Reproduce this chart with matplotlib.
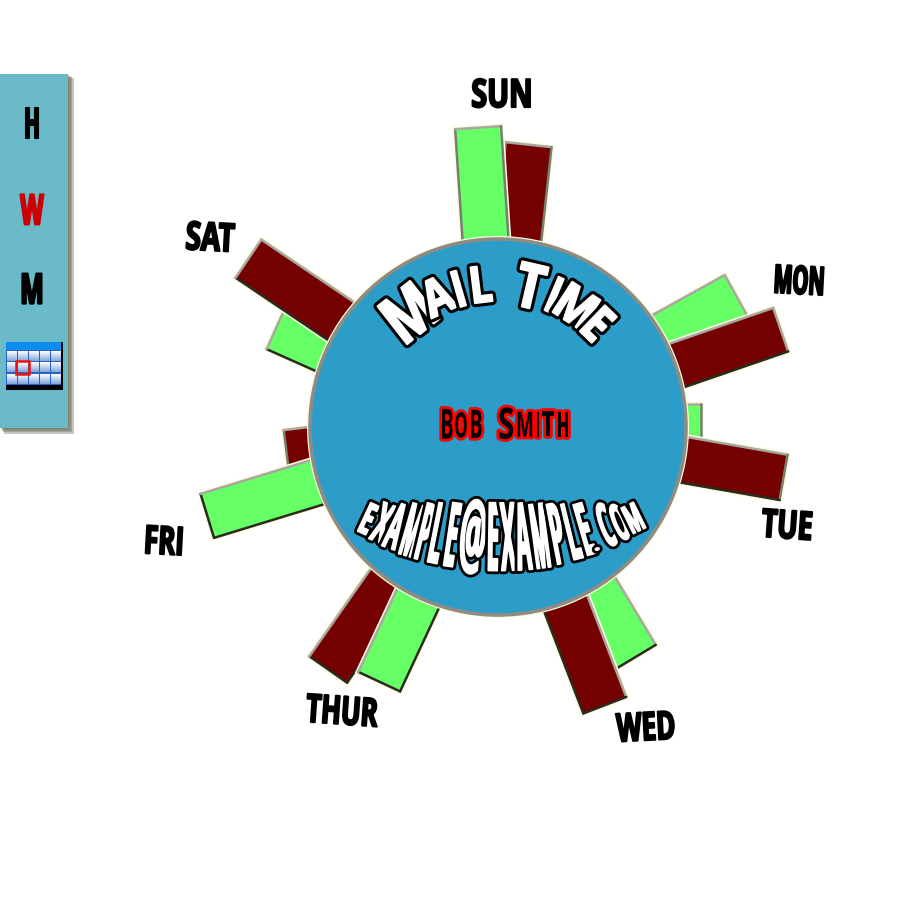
import numpy as np
import matplotlib
matplotlib.use("Agg")
import matplotlib.pyplot as plt
import matplotlib.patheffects as pe
from matplotlib.colors import LinearSegmentedColormap
from matplotlib.patches import Circle, Rectangle
from matplotlib.transforms import Affine2D

days = ["SUN", "MON", "TUE", "WED", "THUR", "FRI", "SAT"]
day_angle = [1.2, 66, 95, 154, 210, 258, 299]
green_vals = [300, 272, 203, 268, 281, 304, 243]
red_vals = [284, 299, 290, 298, 296, 213, 301]
red_on_top = [False, True, True, True, False, False, True]
menu_items = ["H", "W", "M"]

CX, CY, R = 498, 427, 188
FONT = ["Open Sans", "DejaVu Sans"]
GREEN = "#66ff66"
RED = "#750000"

label_pos = [(502, 95, 0), (799, 281, -3), (787, 526, -4), (646, 727, 3),
             (342, 711, -4), (164, 541, -3), (210, 238, -3)]
label_em = [29, 20, 27, 26, 26, 26, 28]


class Stretch(pe.AbstractPathEffect):
    # no condensed font is installed, so the glyphs get stretched in y here
    def __init__(self, sy, edge, lw, fat=0):
        super().__init__()
        self.sy = sy
        self.edge = edge
        self.lw = lw
        self.fat = fat

    def draw_path(self, renderer, gc, tpath, affine, rgbFace=None):
        ext = tpath.get_extents()
        ym = (ext.y0 + ext.y1) / 2
        a = Affine2D().translate(0, -ym).scale(1, self.sy).translate(0, ym) + affine
        gc0 = renderer.new_gc()
        gc0.copy_properties(gc)
        gc0.set_foreground(self.edge)
        gc0.set_linewidth(self.lw + self.fat)
        gc0.set_joinstyle("round")
        renderer.draw_path(gc0, tpath, a, None)
        if self.fat > 0:
            gc0.set_foreground(rgbFace)
            gc0.set_linewidth(self.fat)
            renderer.draw_path(gc0, tpath, a, None)
        gc0.restore()
        renderer.draw_path(gc, tpath, a, rgbFace)


def px(n):
    # font size in points for n pixels, at dpi 100
    return n * 0.72


def put(ax, x, y, s, em, height, fill, edge, lw, rot=0, z=6, fat=0):
    # em is the font size in pixels, height the wanted letter height in pixels
    sy = height / (0.714 * em)
    ax.text(x, y, s, fontsize=px(em), color=fill, family=FONT, weight="bold",
            ha="center", va="center", rotation=rot, zorder=z,
            rotation_mode="anchor", path_effects=[Stretch(sy, edge, lw, fat)])


def bar(ax, angle, value, width, color):
    t = np.radians(angle)
    d = np.array([np.sin(t), -np.cos(t)])
    n = np.array([np.cos(t), np.sin(t)])
    c = np.array([CX, CY])
    p = [c + d * 120 - n * width / 2, c + d * value - n * width / 2,
         c + d * value + n * width / 2, c + d * 120 + n * width / 2]
    xs = [q[0] for q in p]
    ys = [q[1] for q in p]
    ax.fill(xs, ys, color="#fffbe0", lw=4, ec="#fffbe0", zorder=2)
    ax.fill(xs, ys, color=color, lw=0, zorder=2)
    # bevel, gray on the edges facing up and dark on those facing down
    for i in range(3):
        a, b = p[i], p[i + 1]
        mid = (a + b) / 2 - (p[0] + p[1] + p[2] + p[3]) / 4
        ny = mid[1] / np.hypot(mid[0], mid[1])
        if ny < -0.2:
            col = "#a8a8a0"
        elif ny > 0.2:
            col = "#2a2a1e"
        else:
            col = "#77806f"
        ax.plot([a[0], b[0]], [a[1], b[1]], color=col, lw=1.8,
                solid_capstyle="round", zorder=2)


fig = plt.figure(figsize=(9, 9), dpi=100)
ax = fig.add_axes([0, 0, 1, 1])

# left menu, soft shadow first
for k in range(4):
    ax.add_patch(Rectangle((k + 1, 75 + k), 68 + k * 0.6, 354 + k * 0.6, color="#6e7060", alpha=0.4, lw=0, zorder=1))
ax.add_patch(Rectangle((0, 74), 68, 354, color="#6abac9", lw=0, zorder=1.2))
for name, y, col, em in zip(menu_items, [125, 212, 291], ["black", "#cc0000", "black"], [20, 24, 25]):
    put(ax, 32, y, name, em, 30, col, col, 1.5, z=3)

# calendar icon
ax.add_patch(Rectangle((6, 342), 57, 48, color="black", lw=0, zorder=3))
ax.add_patch(Rectangle((6, 342), 55, 8, color="#0a8cf0", lw=0, zorder=3.1))
grad = np.linspace(0, 1, 32).reshape(-1, 1)
cell_map = LinearSegmentedColormap.from_list("c", ["#ffffff", "#7fa8e0"])
for r in range(3):
    for c in range(5):
        x0 = 7 + c * 11
        y0 = 351 + r * 11.6
        ax.add_patch(Rectangle((x0 - 1, y0 - 1), 11, 11.6, color="#2b62c0", lw=0, zorder=3.2))
        ax.imshow(grad, extent=(x0, x0 + 9.4, y0 + 9.8, y0), cmap=cell_map, aspect="auto", zorder=3.3)
ax.add_patch(Rectangle((16, 361), 13, 13, fill=False, ec="#ee1111", lw=1.8, zorder=3.5))

# bars
for i in range(len(days)):
    if red_on_top[i]:
        bar(ax, day_angle[i] - 5, green_vals[i], 46, GREEN)
        bar(ax, day_angle[i] + 5, red_vals[i], 46, RED)
    else:
        bar(ax, day_angle[i] + 5, red_vals[i], 46, RED)
        bar(ax, day_angle[i] - 5, green_vals[i], 46, GREEN)
    x, y, rot = label_pos[i]
    put(ax, x, y + 1, days[i], label_em[i], 28, "black", "black", 1.4, rot=rot)

# hub
ax.add_patch(Circle((CX, CY), R + 3, color="#fffbe0", lw=0, zorder=4))
ax.add_patch(Circle((CX, CY), R, fc="#2b9dc8", ec="#8c8c84", lw=2.6, zorder=4.5))

# curved title
title = "MAIL TIME"
t_angles = [-38, -25, -16, -7, 0, 13, 23, 33, 44]
t_em = [54, 42, 36, 40, 0, 50, 36, 44, 40]
t_high = [48, 36, 36, 36, 0, 44, 36, 36, 36]
for ch, a, em, h in zip(title, t_angles, t_em, t_high):
    if ch == " ":
        continue
    t = np.radians(a)
    put(ax, CX + 140 * np.sin(t), CY - 140 * np.cos(t), ch, em, h, "white", "black", 4.5, rot=-a, fat=1.5)

# name
name = "BOB SMITH"
n_x = [447, 461, 476, 0, 506, 525, 538, 548, 563]
n_em = [20, 17, 20, 0, 30, 19, 18, 22, 17]
n_h = [30, 25, 28, 0, 31, 25, 25, 25, 25]
for ch, x, em, h in zip(name, n_x, n_em, n_h):
    if ch != " ":
        put(ax, x, 426, ch, em, h, "black", "#ff0000", 4)

# curved email, taller towards the middle
email = "EXAMPLE@EXAMPLE.COM"
e_x = [367, 382, 395, 412, 425, 437, 452, 473, 493, 508, 523, 540, 557, 572, 585, 596, 606, 620, 634]
e_em = [22, 22, 20, 18, 21, 22, 22, 30, 22, 22, 21, 18, 21, 22, 22, 22, 20, 18, 18]
for ch, x, em in zip(email, e_x, e_em):
    dx = x - CX
    base = 320 + np.sqrt(253 ** 2 - dx ** 2)
    top = 505
    h = base - top
    y = (base + top) / 2
    if ch == ".":
        y = base - 8
        h = 9
    rot = np.degrees(np.arcsin(dx / 253)) * 0.8
    put(ax, x, y, ch, em, h, "white", "black", 4, rot=rot, fat=1.2)

ax.set_xlim(0, 900)
ax.set_ylim(900, 0)
ax.axis("off")
fig.savefig("out.png", dpi=100, facecolor="white")
